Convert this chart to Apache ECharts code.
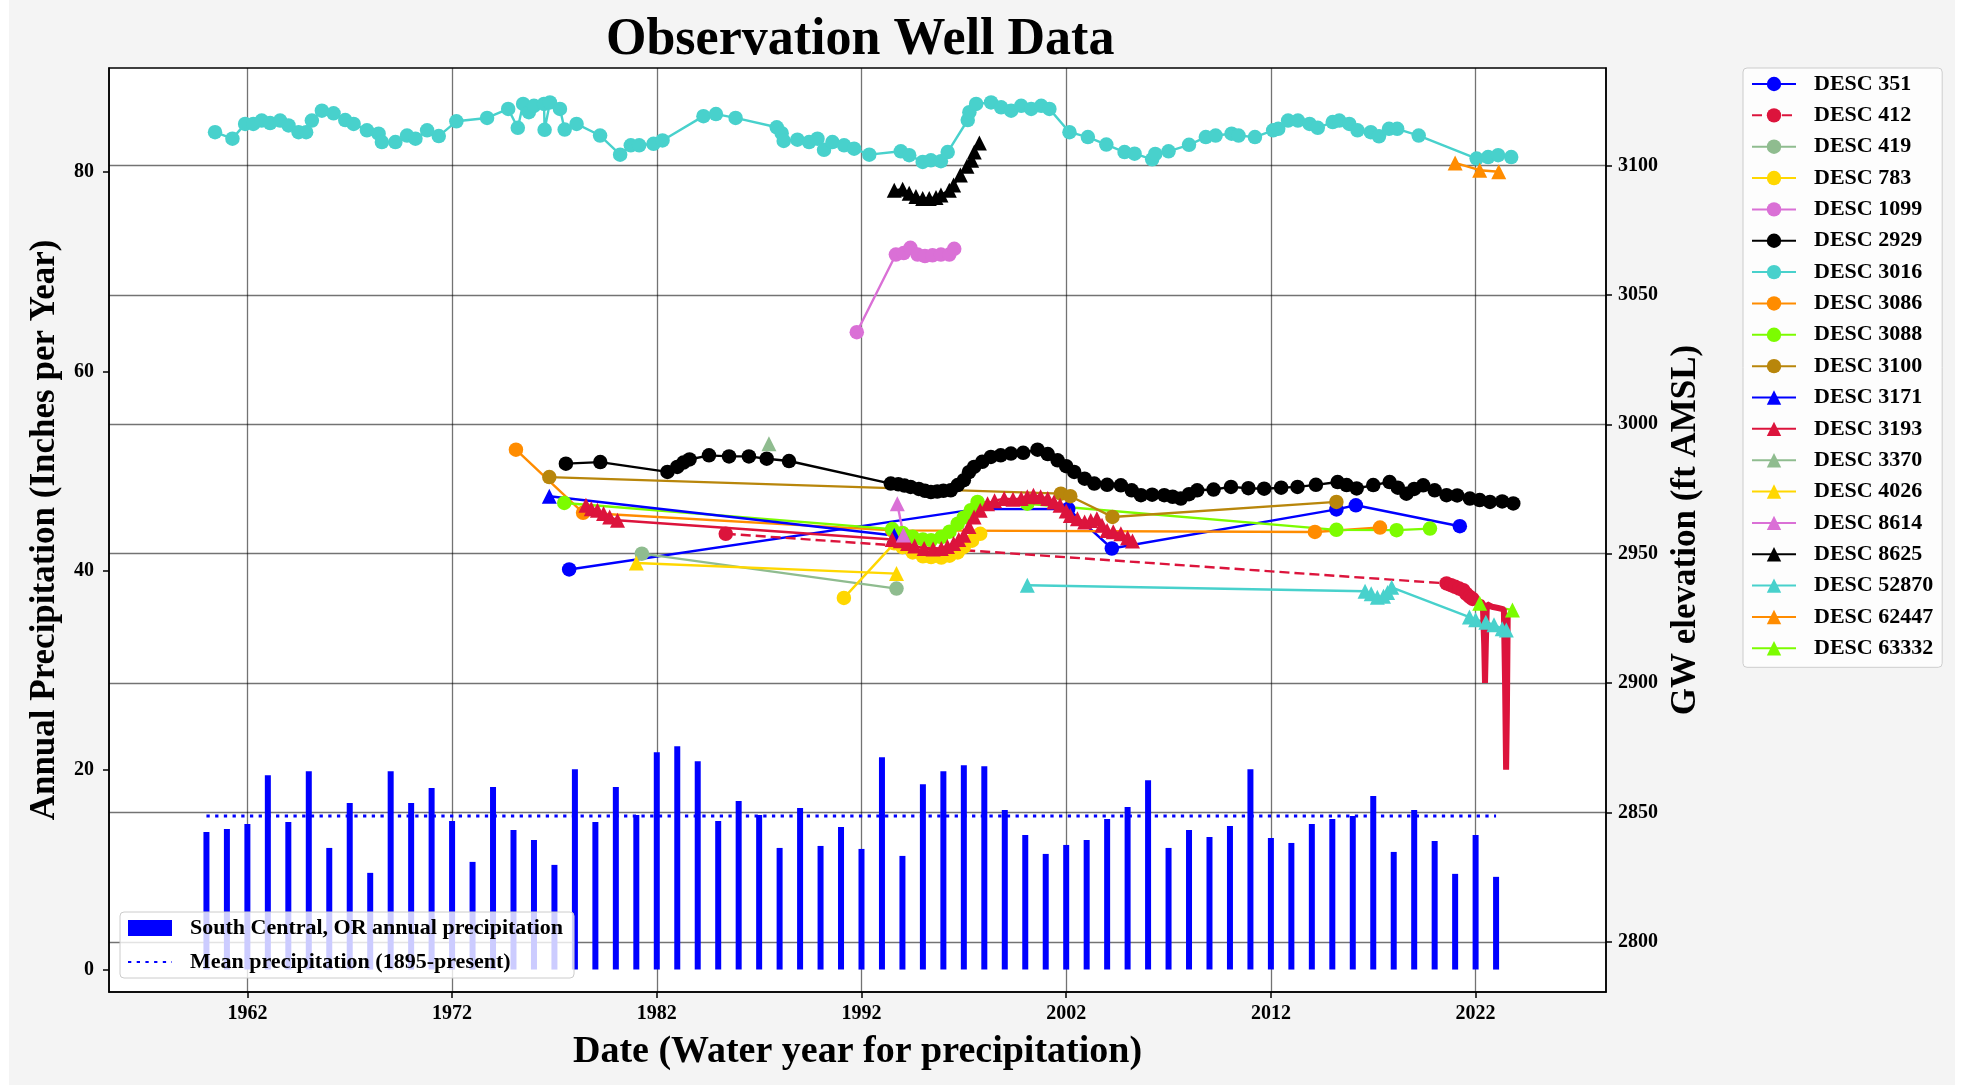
<!DOCTYPE html>
<html>
<head>
<meta charset="utf-8">
<title>Observation Well Data</title>
<script src="https://cdn.jsdelivr.net/npm/echarts@6/dist/echarts.min.js"></script>
<style>
  html, body { margin: 0; padding: 0; background: #ffffff; }
  #paper { position: absolute; left: 9px; top: 0; width: 1946px; height: 1085px; background: #f4f4f4; }
  #chart { position: absolute; left: 0; top: 0; width: 1971px; height: 1090px; }
</style>
</head>
<body>
<div id="paper"></div>
<div id="chart"></div>
<script>
// precipitation (left axis, inches per year)
const precipYears = [1960, 1961, 1962, 1963, 1964, 1965, 1966, 1967, 1968, 1969,
    1970, 1971, 1972, 1973, 1974, 1975, 1976, 1977, 1978, 1979,
    1980, 1981, 1982, 1983, 1984, 1985, 1986, 1987, 1988, 1989,
    1990, 1991, 1992, 1993, 1994, 1995, 1996, 1997, 1998, 1999,
    2000, 2001, 2002, 2003, 2004, 2005, 2006, 2007, 2008, 2009,
    2010, 2011, 2012, 2013, 2014, 2015, 2016, 2017, 2018, 2019,
    2020, 2021, 2022, 2023];
const precipValues = [13.8, 14.1, 14.6, 19.5, 14.8, 19.9, 12.2, 16.7, 9.7, 19.9,
    16.7, 18.2, 14.9, 10.8, 18.3, 14.0, 13.0, 10.5, 20.1, 14.8,
    18.3, 15.5, 21.8, 22.4, 20.9, 14.9, 16.9, 15.5, 12.2, 16.2,
    12.4, 14.3, 12.1, 21.3, 11.4, 18.6, 19.9, 20.5, 20.4, 16.0,
    13.5, 11.6, 12.5, 13.0, 15.1, 16.3, 19.0, 12.2, 14.0, 13.3,
    14.4, 20.1, 13.2, 12.7, 14.6, 15.1, 15.4, 17.4, 11.8, 16.0,
    12.9, 9.6, 13.5, 9.3];
const meanPrecip = 15.4;
const meanYears = [1960, 2023];

// axis ticks
const xTicks = [1962, 1972, 1982, 1992, 2002, 2012, 2022];
const leftTicks = [0, 20, 40, 60, 80];
const rightTicks = [2800, 2850, 2900, 2950, 3000, 3050, 3100];

// groundwater elevation (right axis, ft AMSL), [decimal year, elevation]
const desc351 = [[1977.72, 2943.9], [1997.6, 2967.2], [2002.1, 2967.3], [2004.23, 2952.0],
    [2015.2, 2967.1], [2016.15, 2968.7], [2021.23, 2960.6]];
const desc412 = [[1985.37, 2957.7], [2020.58, 2938.5], [2020.8, 2937.8], [2021.0, 2937.2],
    [2021.2, 2936.5], [2021.4, 2935.9], [2021.55, 2934.5], [2021.72, 2933.3], [2021.85, 2932.5]];
const desc412Recent = [[2021.85, 2932.5], [2022.1, 2931.8], [2022.35, 2931.0], [2022.42, 2915.0],
    [2022.46, 2900.0], [2022.5, 2915.0], [2022.55, 2930.5], [2022.8, 2929.5], [2023.1, 2929.0],
    [2023.38, 2928.5], [2023.44, 2900.0], [2023.49, 2866.5], [2023.53, 2890.0], [2023.57, 2927.0]];
const desc419 = [[1981.27, 2950.0], [1993.71, 2936.5]];
const desc783 = [[1991.14, 2932.9], [1993.6, 2954.0], [1994.0, 2952.5], [1994.5, 2950.5],
    [1995.0, 2949.0], [1995.4, 2948.7], [1995.9, 2948.5], [1996.3, 2949.2], [1996.7, 2950.5],
    [1997.0, 2952.6], [1997.4, 2955.0], [1997.8, 2957.7]];
const desc1099 = [[1991.77, 3035.6], [1993.68, 3065.6], [1994.06, 3066.2], [1994.39, 3068.2],
    [1994.74, 3065.6], [1995.1, 3065.0], [1995.47, 3065.3], [1995.88, 3065.6], [1996.29, 3065.6],
    [1996.53, 3067.8]];
const desc2929 = [[1977.56, 2984.8], [1979.24, 2985.4], [1982.52, 2981.6], [1983.0, 2983.5],
    [1983.3, 2985.2], [1983.6, 2986.4], [1984.55, 2988.0], [1985.53, 2987.6], [1986.5, 2987.6],
    [1987.37, 2986.7], [1988.46, 2985.8], [1993.43, 2977.1], [1993.8, 2976.8], [1994.1, 2976.3],
    [1994.4, 2975.8], [1994.8, 2975.0], [1995.1, 2974.3], [1995.39, 2973.8], [1995.7, 2974.0],
    [1996.0, 2974.3], [1996.36, 2974.5], [1996.7, 2976.5], [1997.0, 2978.4], [1997.25, 2981.5],
    [1997.5, 2983.5], [1997.9, 2985.5], [1998.32, 2987.4], [1998.8, 2988.0], [1999.3, 2988.7],
    [1999.9, 2989.0], [2000.6, 2990.2], [2001.1, 2988.5], [2001.58, 2986.1], [2002.0, 2983.8],
    [2002.39, 2981.6], [2002.9, 2979.0], [2003.37, 2977.1], [2004.0, 2976.6], [2004.67, 2976.4],
    [2005.2, 2974.5], [2005.65, 2972.6], [2006.2, 2972.8], [2006.79, 2972.6], [2007.2, 2972.0],
    [2007.6, 2971.3], [2008.0, 2973.0], [2008.4, 2974.5], [2009.2, 2974.8], [2010.05, 2975.8],
    [2010.9, 2975.3], [2011.67, 2975.1], [2012.5, 2975.5], [2013.3, 2975.8], [2014.2, 2976.6],
    [2015.26, 2977.7], [2015.7, 2976.5], [2016.19, 2975.2], [2017.0, 2976.5], [2017.8, 2977.7],
    [2018.2, 2975.5], [2018.62, 2973.2], [2019.0, 2975.0], [2019.44, 2976.4], [2020.0, 2974.5],
    [2020.58, 2972.6], [2021.1, 2972.5], [2021.72, 2971.3], [2022.2, 2970.7], [2022.7, 2970.0],
    [2023.3, 2970.2], [2023.84, 2969.4]];
const desc3016 = [[1960.42, 3112.9], [1961.27, 3110.4], [1961.89, 3116.1], [1962.29, 3116.1],
    [1962.7, 3117.4], [1963.11, 3116.4], [1963.6, 3117.4], [1964.01, 3115.5], [1964.5, 3112.9],
    [1964.87, 3112.9], [1965.15, 3117.4], [1965.64, 3121.2], [1966.21, 3120.2], [1966.78, 3117.6],
    [1967.19, 3116.1], [1967.84, 3113.6], [1968.41, 3112.3], [1968.57, 3109.1], [1969.23, 3109.1],
    [1969.8, 3111.6], [1970.21, 3110.4], [1970.78, 3113.6], [1971.35, 3111.4], [1972.21, 3117.1],
    [1973.71, 3118.4], [1974.74, 3121.9], [1975.21, 3114.6], [1975.47, 3123.8], [1975.75, 3120.6],
    [1976.0, 3123.1], [1976.49, 3123.8], [1976.52, 3113.8], [1976.78, 3124.4], [1977.27, 3121.9],
    [1977.5, 3113.9], [1978.08, 3116.1], [1979.23, 3111.6], [1980.21, 3104.2], [1980.73, 3107.8],
    [1981.14, 3107.8], [1981.84, 3108.4], [1982.28, 3109.7], [1984.28, 3119.1], [1984.89, 3119.9],
    [1985.85, 3118.4], [1987.86, 3114.8], [1988.1, 3112.5], [1988.2, 3109.5], [1988.87, 3110.0],
    [1989.44, 3109.1], [1989.85, 3110.4], [1990.17, 3106.1], [1990.58, 3109.1], [1991.15, 3107.8],
    [1991.64, 3106.5], [1992.38, 3104.2], [1993.92, 3105.5], [1994.33, 3104.0], [1994.99, 3101.4],
    [1995.39, 3102.0], [1995.88, 3101.7], [1996.21, 3105.2], [1997.19, 3117.6], [1997.27, 3120.6],
    [1997.6, 3123.8], [1998.33, 3124.4], [1998.82, 3122.5], [1999.31, 3121.2], [1999.8, 3123.1],
    [2000.29, 3121.9], [2000.78, 3123.1], [2001.18, 3121.9], [2002.16, 3112.9], [2003.06, 3111.0],
    [2003.96, 3108.1], [2004.85, 3105.2], [2005.34, 3104.6], [2006.2, 3102.4], [2006.35, 3104.5],
    [2007.0, 3105.5], [2008.0, 3108.0], [2008.82, 3111.0], [2009.3, 3111.6], [2010.08, 3112.3],
    [2010.42, 3111.6], [2011.22, 3111.0], [2012.11, 3113.6], [2012.36, 3114.2], [2012.84, 3117.4],
    [2013.32, 3117.4], [2013.89, 3116.1], [2014.29, 3114.6], [2015.02, 3116.8], [2015.34, 3117.4],
    [2015.83, 3116.1], [2016.23, 3113.6], [2016.88, 3112.9], [2017.28, 3111.3], [2017.77, 3114.2],
    [2018.17, 3114.2], [2019.22, 3111.6], [2022.05, 3102.7], [2022.61, 3103.3], [2023.1, 3104.0],
    [2023.74, 3103.3]];
const desc3086 = [[1975.12, 2990.2], [1978.4, 2965.8], [1993.5, 2959.0], [2014.15, 2958.4],
    [2017.33, 2960.1]];
const desc3088 = [[1977.48, 2969.6], [1993.5, 2959.5], [1994.0, 2958.0], [1994.5, 2956.5],
    [1995.0, 2955.5], [1995.4, 2955.2], [1995.9, 2956.4], [1996.3, 2958.5], [1996.7, 2961.6],
    [1997.0, 2964.0], [1997.34, 2966.8], [1997.67, 2970.0], [2000.1, 2969.3], [2015.2, 2959.2],
    [2018.14, 2959.1], [2019.77, 2959.7]];
const desc3100 = [[1976.75, 2979.6], [2001.74, 2973.2], [2002.2, 2972.2], [2004.26, 2964.2],
    [2015.2, 2970.0]];
const desc3171 = [[1976.75, 2972.2], [1993.6, 2957.0]];
const desc3193 = [[1978.54, 2968.7], [1978.8, 2967.4], [1979.1, 2966.8], [1979.4, 2965.5],
    [1979.7, 2964.2], [1980.08, 2962.9], [1993.5, 2955.5], [1993.9, 2955.0], [1994.25, 2953.9],
    [1994.6, 2953.0], [1995.06, 2952.0], [1995.5, 2951.8], [1995.9, 2952.0], [1996.2, 2952.8],
    [1996.5, 2953.9], [1996.75, 2955.5], [1997.0, 2957.1], [1997.25, 2960.5], [1997.5, 2964.2],
    [1997.8, 2966.8], [1998.16, 2969.3], [1998.5, 2970.5], [1998.97, 2971.3], [1999.4, 2971.0],
    [1999.8, 2971.3], [2000.1, 2972.0], [2000.4, 2972.6], [2000.75, 2972.0], [2001.1, 2971.3],
    [2001.4, 2970.0], [2001.7, 2968.7], [2002.0, 2966.5], [2002.2, 2964.8], [2002.55, 2963.5],
    [2002.9, 2962.2], [2003.2, 2962.8], [2003.5, 2963.5], [2003.75, 2961.0], [2004.0, 2959.0],
    [2004.3, 2958.5], [2004.67, 2957.7], [2005.0, 2956.2], [2005.24, 2954.9]];
const desc3370 = [[1987.48, 2992.5]];
const desc4026 = [[1981.0, 2946.4], [1993.71, 2942.3]];
const desc8614 = [[1993.75, 2969.3], [1994.05, 2957.2]];
const desc8625 = [[1993.6, 3090.5], [1994.01, 3090.8], [1994.33, 3089.3], [1994.66, 3088.0],
    [1994.99, 3087.3], [1995.31, 3087.3], [1995.64, 3087.7], [1995.88, 3088.6], [1996.29, 3090.5],
    [1996.5, 3092.5], [1996.83, 3096.3], [1997.15, 3099.7], [1997.38, 3102.0], [1997.51, 3105.2],
    [1997.76, 3108.7]];
const desc52870 = [[2000.1, 2937.8], [2016.6, 2935.5], [2016.9, 2934.5], [2017.2, 2933.2],
    [2017.5, 2933.5], [2017.7, 2935.0], [2017.9, 2937.0], [2021.7, 2925.5], [2022.0, 2924.5],
    [2022.5, 2923.5], [2022.9, 2922.5], [2023.3, 2921.0], [2023.5, 2920.5]];
const desc62447 = [[2021.0, 3101.0], [2022.2, 3098.2], [2023.13, 3097.6]];
const desc63332 = [[2022.2, 2930.8], [2023.8, 2928.2]];

const FONT = 'Liberation Serif';

function well(name, data, color, symbol, dashed) {
    return {
        type: 'line',
        name: name,
        data: data,
        yAxisIndex: 1,
        symbol: symbol,
        symbolSize: symbol === 'triangle' ? 15 : 14.5,
        showSymbol: true,
        showAllSymbol: true,
        itemStyle: { color: color, borderWidth: 0 },
        lineStyle: { color: color, width: 2.4, type: dashed ? [10, 5] : 'solid' },
        emphasis: { disabled: true },
        z: 3
    };
}

const wellSeries = [
    well('DESC 351', desc351, '#0000ff', 'circle'),
    well('DESC 412', desc412, '#dc143c', 'circle', true),
    well('DESC 419', desc419, '#8fbc8f', 'circle'),
    well('DESC 783', desc783, '#ffd700', 'circle'),
    well('DESC 1099', desc1099, '#da70d6', 'circle'),
    well('DESC 2929', desc2929, '#000000', 'circle'),
    well('DESC 3016', desc3016, '#48d1cc', 'circle'),
    well('DESC 3086', desc3086, '#ff8c00', 'circle'),
    well('DESC 3088', desc3088, '#7cfc00', 'circle'),
    well('DESC 3100', desc3100, '#b8860b', 'circle'),
    well('DESC 3171', desc3171, '#0000ff', 'triangle'),
    well('DESC 3193', desc3193, '#dc143c', 'triangle'),
    well('DESC 3370', desc3370, '#8fbc8f', 'triangle'),
    well('DESC 4026', desc4026, '#ffd700', 'triangle'),
    well('DESC 8614', desc8614, '#da70d6', 'triangle'),
    well('DESC 8625', desc8625, '#000000', 'triangle'),
    well('DESC 52870', desc52870, '#48d1cc', 'triangle'),
    well('DESC 62447', desc62447, '#ff8c00', 'triangle'),
    well('DESC 63332', desc63332, '#7cfc00', 'triangle')
];

// dense transducer record at the end of DESC 412, drawn as a thick line
const recent412 = {
    type: 'line',
    name: 'DESC 412',
    data: desc412Recent,
    yAxisIndex: 1,
    symbol: 'none',
    lineStyle: { color: '#dc143c', width: 6 },
    itemStyle: { color: '#dc143c' },
    emphasis: { disabled: true },
    z: 3
};

const precipName = 'South Central, OR annual precipitation';
const meanName = 'Mean precipitation (1895-present)';

const tickLabel = {
    fontFamily: FONT, fontWeight: 'bold', fontSize: 20, color: '#000',
    formatter: v => String(v)
};

const option = {
    animation: false,
    backgroundColor: 'transparent',
    title: {
        text: 'Observation Well Data',
        left: 601,
        top: 10,
        textStyle: { fontFamily: FONT, fontWeight: 'bold', fontSize: 52, color: '#000' }
    },
    grid: {
        left: 109, top: 68, width: 1497, height: 924,
        containLabel: false,
        outerBoundsMode: 'none',
        show: true,
        backgroundColor: '#ffffff',
        borderColor: '#000',
        borderWidth: 1.5
    },
    legend: [
        {
            data: [
                { name: precipName, icon: 'rect' },
                { name: meanName, itemStyle: { opacity: 0 } }
            ],
            orient: 'vertical',
            left: 120, top: 912,
            itemWidth: 44, itemHeight: 16, itemGap: 12,
            padding: [5, 11, 5, 7],
            backgroundColor: 'rgba(255,255,255,0.8)',
            borderColor: '#cccccc', borderWidth: 1, borderRadius: 4,
            selectedMode: false,
            textStyle: { fontFamily: FONT, fontWeight: 'bold', fontSize: 22, color: '#000', padding: [0, 0, 0, 13] }
        },
        {
            data: wellSeries.map(s => s.name),
            orient: 'vertical',
            left: 1743, top: 68,
            itemWidth: 44, itemHeight: 18, itemGap: 9.35,
            padding: [5, 9, 8, 8],
            backgroundColor: 'rgba(255,255,255,0.8)',
            borderColor: '#cccccc', borderWidth: 1, borderRadius: 4,
            selectedMode: false,
            textStyle: { fontFamily: FONT, fontWeight: 'bold', fontSize: 22, color: '#000', padding: [0, 0, 0, 13] }
        }
    ],
    xAxis: {
        type: 'value',
        min: 1955.24,
        max: 2028.37,
        name: 'Date (Water year for precipitation)',
        nameLocation: 'middle',
        nameGap: 41,
        nameTextStyle: { fontFamily: FONT, fontWeight: 'bold', fontSize: 38, color: '#000' },
        axisLine: { show: true, onZero: false, lineStyle: { color: '#000', width: 1.5 } },
        axisTick: { show: true, length: 6, customValues: xTicks, lineStyle: { color: '#000', width: 1.5 } },
        axisLabel: Object.assign({ margin: 12, customValues: xTicks }, tickLabel),
        splitLine: { show: true, lineStyle: { color: 'rgba(0,0,0,0.55)', width: 1.3 } }
    },
    yAxis: [
        {
            type: 'value',
            position: 'left',
            min: -2.25,
            max: 90.43,
            name: 'Annual Precipitation (Inches per Year)',
            nameLocation: 'middle',
            nameRotate: 90,
            nameGap: 47,
            nameTextStyle: { fontFamily: FONT, fontWeight: 'bold', fontSize: 35, color: '#000' },
            axisLine: { show: true, onZero: false, lineStyle: { color: '#000', width: 1.5 } },
            axisTick: { show: true, length: 6, customValues: leftTicks, lineStyle: { color: '#000', width: 1.5 } },
            axisLabel: Object.assign({ margin: 15, customValues: leftTicks }, tickLabel),
            splitLine: { show: false }
        },
        {
            type: 'value',
            position: 'right',
            min: 2780.6,
            max: 3137.7,
            name: 'GW elevation (ft AMSL)',
            nameLocation: 'middle',
            nameRotate: 90,
            nameGap: 55,
            nameTextStyle: { fontFamily: FONT, fontWeight: 'bold', fontSize: 35, color: '#000' },
            axisLine: { show: true, onZero: false, lineStyle: { color: '#000', width: 1.5 } },
            axisTick: { show: true, length: 6, customValues: rightTicks, lineStyle: { color: '#000', width: 1.5 } },
            axisLabel: Object.assign({ margin: 12, customValues: rightTicks }, tickLabel),
            splitLine: { show: true, lineStyle: { color: 'rgba(0,0,0,0.55)', width: 1.3 } }
        }
    ],
    series: [
        {
            type: 'bar',
            name: precipName,
            data: precipYears.map((y, i) => [y, precipValues[i]]),
            yAxisIndex: 0,
            barWidth: 6,
            itemStyle: { color: '#0000ff' },
            emphasis: { disabled: true },
            z: 2
        },
        {
            type: 'line',
            name: meanName,
            data: meanYears.map(y => [y, meanPrecip]),
            yAxisIndex: 0,
            symbol: 'none',
            lineStyle: { color: '#0000ff', width: 3, type: [3.3, 5.4] },
            itemStyle: { color: '#0000ff' },
            emphasis: { disabled: true },
            z: 2
        }
    ].concat(wellSeries, [recent412])
};

const chart = echarts.init(document.getElementById('chart'), null, { renderer: 'canvas' });
chart.setOption(option);
</script>
</body>
</html>
